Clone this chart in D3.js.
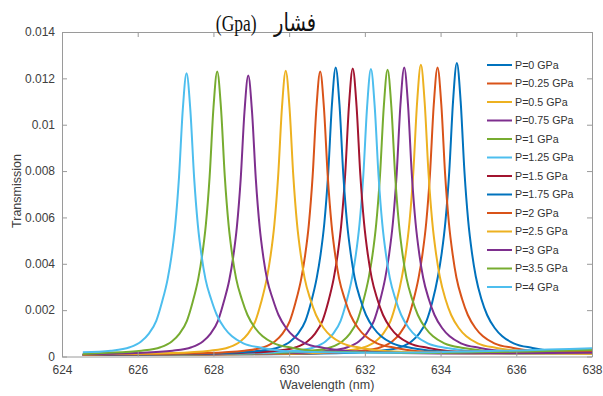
<!DOCTYPE html>
<html>
<head>
<meta charset="utf-8">
<script src="https://cdn.jsdelivr.net/npm/d3@7"></script>
<style>
  html, body { margin: 0; padding: 0; background: #fff; }
  svg { display: block; }
</style>
</head>
<body>
<div id="chart"></div>
<script>
// legend labels
const pressures = ['P=0 GPa', 'P=0.25 GPa', 'P=0.5 GPa', 'P=0.75 GPa', 'P=1 GPa', 'P=1.25 GPa',
  'P=1.5 GPa', 'P=1.75 GPa', 'P=2 GPa', 'P=2.5 GPa', 'P=3 GPa', 'P=3.5 GPa', 'P=4 GPa'];

const xTicks = [624, 626, 628, 630, 632, 634, 636, 638];
const yTicks = [0, 0.002, 0.004, 0.006, 0.008, 0.01, 0.012, 0.014];

// [wavelength (nm), transmission]
const p0 = [[624.55, 0.00007], [629.43, 0.0001], [631.43, 0.00015], [632.43, 0.00025], [632.93, 0.0004], [633.23, 0.00065], [633.43, 0.00098], [633.63, 0.00154], [633.78, 0.00234], [633.93, 0.00345], [634.03, 0.00446], [634.13, 0.00585], [634.23, 0.00799], [634.33, 0.01102], [634.43, 0.01266], [634.53, 0.01102], [634.63, 0.00799], [634.73, 0.00585], [634.83, 0.00446], [634.93, 0.00345], [635.08, 0.00247], [635.23, 0.00179], [635.43, 0.00123], [635.63, 0.00087], [635.93, 0.00057], [636.43, 0.00037], [637.43, 0.0002], [638, 0.00022]];
const p025 = [[624.55, 0.00007], [628.92, 0.0001], [630.92, 0.00015], [631.92, 0.00025], [632.42, 0.0004], [632.72, 0.00065], [632.92, 0.00098], [633.12, 0.00154], [633.27, 0.00234], [633.42, 0.0034], [633.52, 0.0044], [633.62, 0.00576], [633.72, 0.00787], [633.82, 0.01086], [633.92, 0.01247], [634.02, 0.01086], [634.12, 0.00787], [634.22, 0.00576], [634.32, 0.0044], [634.42, 0.0034], [634.57, 0.00247], [634.72, 0.00179], [634.92, 0.00123], [635.12, 0.00087], [635.42, 0.00057], [635.92, 0.00037], [636.92, 0.0002], [638, 0.0002]];
const p05 = [[624.55, 0.00007], [628.48, 0.0001], [630.48, 0.00015], [631.48, 0.00025], [631.98, 0.0004], [632.28, 0.00065], [632.48, 0.00098], [632.68, 0.00154], [632.83, 0.00234], [632.98, 0.00344], [633.08, 0.00444], [633.18, 0.00582], [633.28, 0.00795], [633.38, 0.01096], [633.48, 0.01259], [633.58, 0.01096], [633.68, 0.00795], [633.78, 0.00582], [633.88, 0.00444], [633.98, 0.00344], [634.13, 0.00247], [634.28, 0.00179], [634.48, 0.00123], [634.68, 0.00087], [634.98, 0.00057], [635.48, 0.00037], [636.48, 0.0002], [638, 0.00012]];
const p075 = [[624.55, 0.00007], [628.04, 0.0001], [630.04, 0.00015], [631.04, 0.00025], [631.54, 0.0004], [631.84, 0.00065], [632.04, 0.00098], [632.24, 0.00154], [632.39, 0.00234], [632.54, 0.0034], [632.64, 0.0044], [632.74, 0.00576], [632.84, 0.00787], [632.94, 0.01086], [633.04, 0.01247], [633.14, 0.01086], [633.24, 0.00787], [633.34, 0.00576], [633.44, 0.0044], [633.54, 0.0034], [633.69, 0.00247], [633.84, 0.00179], [634.04, 0.00123], [634.24, 0.00087], [634.54, 0.00057], [635.04, 0.00037], [636.04, 0.0002], [638, 0.00015]];
const p1 = [[624.55, 0.00007], [627.6, 0.0001], [629.6, 0.00015], [630.6, 0.00025], [631.1, 0.0004], [631.4, 0.00065], [631.6, 0.00098], [631.8, 0.00154], [631.95, 0.00234], [632.1, 0.00338], [632.2, 0.00436], [632.3, 0.00572], [632.4, 0.00781], [632.5, 0.01077], [632.6, 0.01237], [632.7, 0.01077], [632.8, 0.00781], [632.9, 0.00572], [633.0, 0.00436], [633.1, 0.00338], [633.25, 0.00247], [633.4, 0.00179], [633.6, 0.00123], [633.8, 0.00087], [634.1, 0.00057], [634.6, 0.00037], [635.6, 0.00022], [638, 0.00025]];
const p125 = [[624.55, 0.00007], [627.16, 0.0001], [629.16, 0.00015], [630.16, 0.00025], [630.66, 0.0004], [630.96, 0.00065], [631.16, 0.00098], [631.36, 0.00154], [631.51, 0.00234], [631.66, 0.00338], [631.76, 0.00437], [631.86, 0.00573], [631.96, 0.00783], [632.06, 0.01079], [632.16, 0.0124], [632.26, 0.01079], [632.36, 0.00783], [632.46, 0.00573], [632.56, 0.00437], [632.66, 0.00338], [632.81, 0.00247], [632.96, 0.00179], [633.16, 0.00123], [633.36, 0.00087], [633.66, 0.00057], [634.16, 0.00037], [635.16, 0.00022], [638, 0.0003]];
const p15 = [[624.55, 0.00007], [626.68, 0.0001], [628.68, 0.00015], [629.68, 0.00025], [630.18, 0.0004], [630.48, 0.00065], [630.68, 0.00098], [630.88, 0.00154], [631.03, 0.00234], [631.18, 0.00339], [631.28, 0.00438], [631.38, 0.00574], [631.48, 0.00785], [631.58, 0.01082], [631.68, 0.01243], [631.78, 0.01082], [631.88, 0.00785], [631.98, 0.00574], [632.08, 0.00438], [632.18, 0.00339], [632.33, 0.00247], [632.48, 0.00179], [632.68, 0.00123], [632.88, 0.00087], [633.18, 0.00057], [633.68, 0.00037], [634.68, 0.0002], [638, 0.00019]];
const p175 = [[624.55, 0.00008], [626.23, 0.0001], [628.23, 0.00015], [629.23, 0.00025], [629.73, 0.0004], [630.03, 0.00065], [630.23, 0.00098], [630.43, 0.00154], [630.58, 0.00234], [630.73, 0.0034], [630.83, 0.0044], [630.93, 0.00576], [631.03, 0.00787], [631.13, 0.01086], [631.23, 0.01247], [631.33, 0.01086], [631.43, 0.00787], [631.53, 0.00576], [631.63, 0.0044], [631.73, 0.0034], [631.88, 0.00247], [632.03, 0.00179], [632.23, 0.00123], [632.43, 0.00087], [632.73, 0.00057], [633.23, 0.00037], [634.23, 0.0002], [636.23, 0.00013], [638, 0.00014]];
const p2 = [[624.55, 0.00008], [625.82, 0.0001], [627.82, 0.00015], [628.82, 0.00025], [629.32, 0.0004], [629.62, 0.00065], [629.82, 0.00098], [630.02, 0.00154], [630.17, 0.00234], [630.32, 0.00336], [630.42, 0.00434], [630.52, 0.00569], [630.62, 0.00777], [630.72, 0.01071], [630.82, 0.0123], [630.92, 0.01071], [631.02, 0.00777], [631.12, 0.00569], [631.22, 0.00434], [631.32, 0.00336], [631.47, 0.00247], [631.62, 0.00179], [631.82, 0.00123], [632.02, 0.00087], [632.32, 0.00057], [632.82, 0.00037], [633.82, 0.0002], [638, 0.0002]];
const p25 = [[624.55, 0.00009], [624.91, 0.0001], [626.91, 0.00015], [627.91, 0.00025], [628.41, 0.0004], [628.71, 0.00065], [628.91, 0.00098], [629.11, 0.00154], [629.26, 0.00234], [629.41, 0.00337], [629.51, 0.00435], [629.61, 0.0057], [629.71, 0.00779], [629.81, 0.01073], [629.91, 0.01233], [630.01, 0.01073], [630.11, 0.00779], [630.21, 0.0057], [630.31, 0.00435], [630.41, 0.00337], [630.56, 0.00247], [630.71, 0.00179], [630.91, 0.00123], [631.11, 0.00087], [631.41, 0.00057], [631.91, 0.00037], [632.91, 0.0002], [634.91, 0.00013], [638, 0.00012]];
const p3 = [[624.55, 0.0001], [625.92, 0.00015], [626.92, 0.00025], [627.42, 0.0004], [627.72, 0.00065], [627.92, 0.00098], [628.12, 0.00154], [628.27, 0.00234], [628.42, 0.00331], [628.52, 0.00427], [628.62, 0.0056], [628.72, 0.00765], [628.82, 0.01055], [628.92, 0.01212], [629.02, 0.01055], [629.12, 0.00765], [629.22, 0.0056], [629.32, 0.00427], [629.42, 0.00331], [629.57, 0.00247], [629.72, 0.00179], [629.92, 0.00123], [630.12, 0.00087], [630.42, 0.00057], [630.92, 0.00037], [631.92, 0.0002], [633.92, 0.00013], [638, 0.00016]];
const p35 = [[624.55, 0.00011], [625.1, 0.00015], [626.1, 0.00025], [626.6, 0.0004], [626.9, 0.00065], [627.1, 0.00098], [627.3, 0.00154], [627.45, 0.00234], [627.6, 0.00336], [627.7, 0.00434], [627.8, 0.00569], [627.9, 0.00777], [628.0, 0.01071], [628.1, 0.0123], [628.2, 0.01071], [628.3, 0.00777], [628.4, 0.00569], [628.5, 0.00434], [628.6, 0.00336], [628.75, 0.00247], [628.9, 0.00179], [629.1, 0.00123], [629.3, 0.00087], [629.6, 0.00057], [630.1, 0.00037], [631.1, 0.0002], [633.1, 0.00015], [638, 0.00028]];
const p4 = [[624.55, 0.00018], [625.29, 0.00025], [625.79, 0.0004], [626.09, 0.00065], [626.29, 0.00098], [626.49, 0.00154], [626.64, 0.00234], [626.79, 0.00334], [626.89, 0.00431], [626.99, 0.00565], [627.09, 0.00772], [627.19, 0.01064], [627.29, 0.01222], [627.39, 0.01064], [627.49, 0.00772], [627.59, 0.00565], [627.69, 0.00431], [627.79, 0.00334], [627.94, 0.00247], [628.09, 0.00179], [628.29, 0.00123], [628.49, 0.00087], [628.79, 0.00057], [629.29, 0.00037], [630.29, 0.0002], [632.29, 0.00016], [638, 0.00036]];

const series = [p0, p025, p05, p075, p1, p125, p15, p175, p2, p25, p3, p35, p4];

// matlab default line colours
const colors = ['#0072BD', '#D95319', '#EDB120', '#7E2F8E', '#77AC30', '#4DBEEE', '#A2142F',
  '#0072BD', '#D95319', '#EDB120', '#7E2F8E', '#77AC30', '#4DBEEE'];

const config = {
  width: 603,
  height: 396,
  plot: { left: 62, right: 592, top: 32, bottom: 356.5 },
  axis: { color: '#9a9a9a', text: '#404040', font: 'Liberation Sans, Arial, sans-serif', tick: 5 },
  legend: { x: 487, lineWidth: 25, top: 65, step: 18.5 },
};

const svg = d3.select('#chart').append('svg')
  .attr('width', config.width)
  .attr('height', config.height);

svg.append('rect').attr('width', config.width).attr('height', config.height).attr('fill', '#fff');

const x = d3.scaleLinear().domain([624, 638]).range([config.plot.left, config.plot.right]);
const y = d3.scaleLinear().domain([0, 0.014]).range([config.plot.bottom, config.plot.top]);

// curves
svg.append('clipPath').attr('id', 'clip')
  .append('rect')
  .attr('x', config.plot.left).attr('y', config.plot.top)
  .attr('width', config.plot.right - config.plot.left)
  .attr('height', config.plot.bottom - config.plot.top);

const line = d3.line()
  .x(d => x(d[0]))
  .y(d => y(d[1]))
  .curve(d3.curveMonotoneX);

svg.append('g')
  .attr('clip-path', 'url(#clip)')
  .selectAll('path')
  .data(series)
  .enter()
  .append('path')
  .attr('d', line)
  .attr('fill', 'none')
  .attr('stroke', (d, i) => colors[i])
  .attr('stroke-width', 2)
  .attr('stroke-linejoin', 'round');

// axes (box with inward ticks)
const styleAxis = g => {
  g.selectAll('path, line').attr('stroke', config.axis.color);
  g.selectAll('text')
    .attr('fill', config.axis.text)
    .attr('font-family', config.axis.font)
    .attr('font-size', 12);
};

svg.append('g')
  .attr('transform', `translate(0,${config.plot.bottom})`)
  .call(d3.axisBottom(x).tickValues(xTicks).tickFormat(d3.format('d'))
    .tickSizeInner(-config.axis.tick).tickSizeOuter(0).tickPadding(9))
  .call(styleAxis);

svg.append('g')
  .attr('transform', `translate(0,${config.plot.top})`)
  .call(d3.axisTop(x).tickValues(xTicks).tickFormat('')
    .tickSizeInner(-config.axis.tick).tickSizeOuter(0))
  .call(styleAxis);

svg.append('g')
  .attr('transform', `translate(${config.plot.left},0)`)
  .call(d3.axisLeft(y).tickValues(yTicks).tickFormat(d => String(d))
    .tickSizeInner(-config.axis.tick).tickSizeOuter(0).tickPadding(7))
  .call(styleAxis);

svg.append('g')
  .attr('transform', `translate(${config.plot.right},0)`)
  .call(d3.axisRight(y).tickValues(yTicks).tickFormat('')
    .tickSizeInner(-config.axis.tick).tickSizeOuter(0))
  .call(styleAxis);

// axis titles
svg.append('text')
  .text('Wavelength (nm)')
  .attr('x', 327)
  .attr('y', 389)
  .attr('text-anchor', 'middle')
  .attr('font-family', config.axis.font)
  .attr('font-size', 12.5)
  .attr('fill', config.axis.text);

svg.append('text')
  .text('Transmission')
  .attr('transform', 'translate(21,191) rotate(-90)')
  .attr('text-anchor', 'middle')
  .attr('font-family', config.axis.font)
  .attr('font-size', 12.5)
  .attr('fill', config.axis.text);

// legend
const legend = svg.append('g')
  .selectAll('g')
  .data(pressures)
  .enter()
  .append('g')
  .attr('transform', (d, i) => `translate(${config.legend.x},${config.legend.top + i * config.legend.step})`);

legend.append('line')
  .attr('x1', 0)
  .attr('x2', config.legend.lineWidth)
  .attr('stroke', (d, i) => colors[i])
  .attr('stroke-width', 2);

legend.append('text')
  .text(d => d)
  .attr('x', config.legend.lineWidth + 3)
  .attr('dy', '0.35em')
  .attr('font-family', config.axis.font)
  .attr('font-size', 10.7)
  .attr('fill', '#333');

// title (persian word + unit, right-to-left)
const title = svg.append('text')
  .attr('transform', 'translate(266,31) scale(1,1.3)')
  .attr('direction', 'rtl')
  .attr('text-anchor', 'middle')
  .attr('fill', '#111');

title.append('tspan')
  .text('فشار')
  .attr('font-family', 'DejaVu Sans, sans-serif')
  .attr('font-size', 19.5);

title.append('tspan')
  .text('\u00a0\u00a0\u00a0\u00a0(Gpa)')
  .attr('font-family', 'Liberation Serif, serif')
  .attr('font-size', 17.5);
</script>
</body>
</html>
